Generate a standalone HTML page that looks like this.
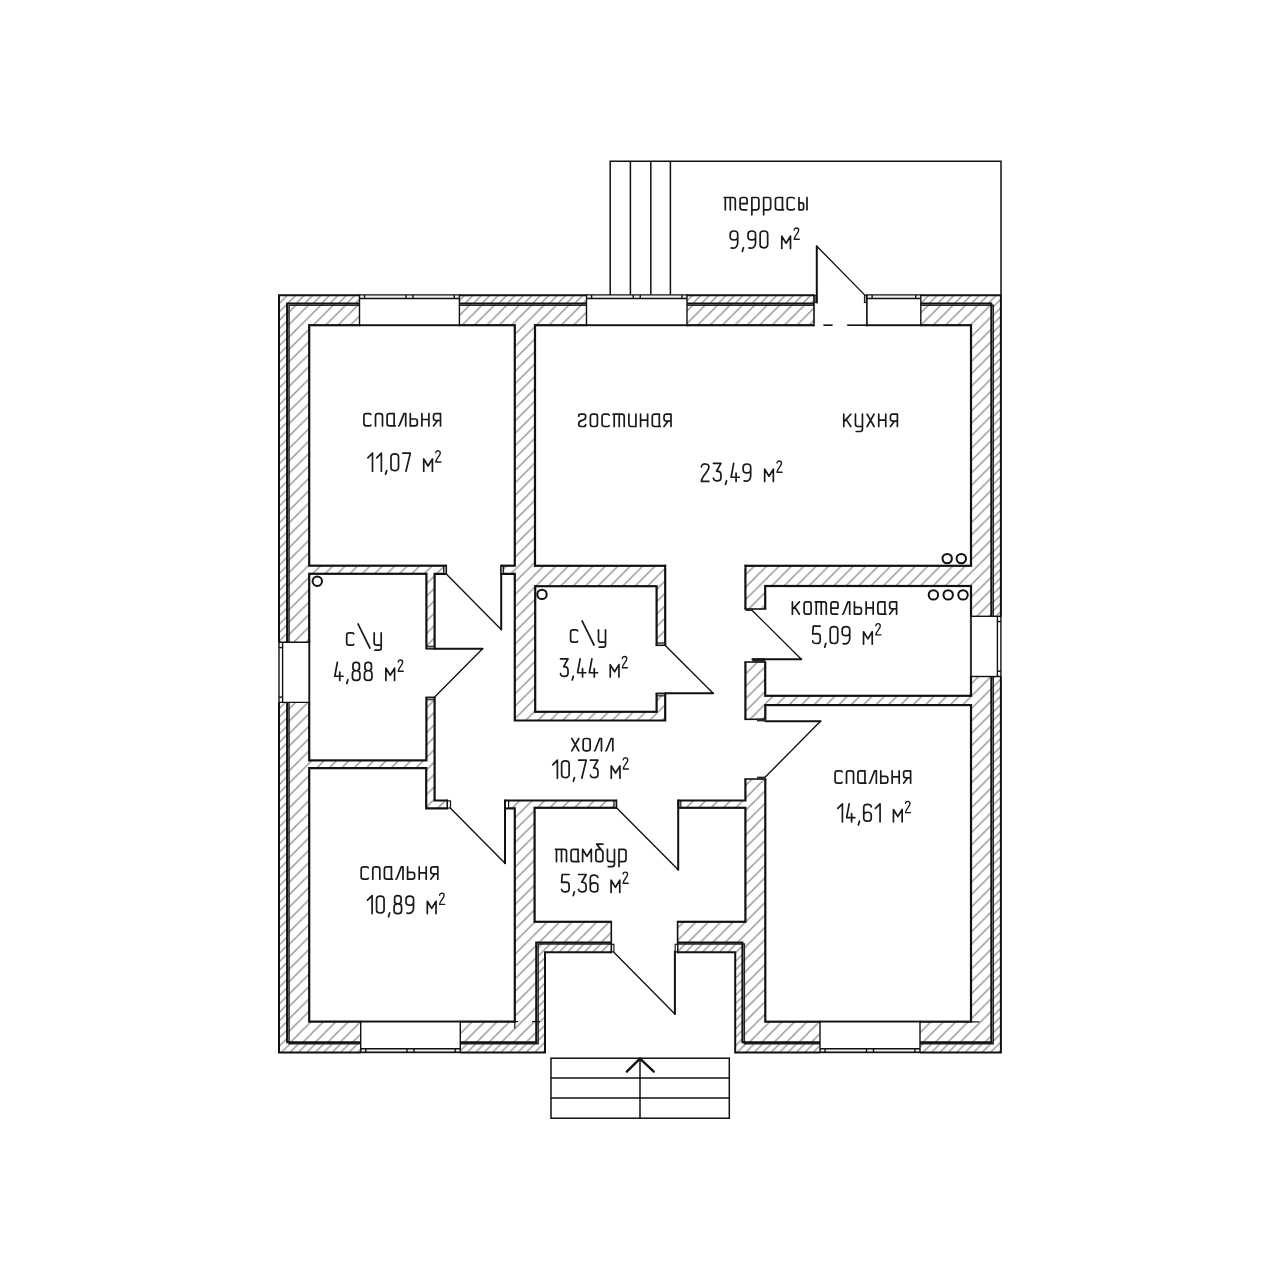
<!DOCTYPE html>
<html><head><meta charset="utf-8"><title>plan</title>
<style>html,body{margin:0;padding:0;background:#fff;font-family:"Liberation Sans",sans-serif}svg{display:block}</style>
</head><body>
<svg width="1280" height="1280" viewBox="0 0 1280 1280">
<rect width="1280" height="1280" fill="#fff"/>
<defs><pattern id="hs" patternUnits="userSpaceOnUse" width="12.4" height="12.4" patternTransform="translate(6.0,0)"><path d="M0,12.4 L12.4,0 M-1,1 L1,-1 M11.4,13.4 L13.4,11.4" stroke="#939393" stroke-width="1.4" fill="none"/></pattern><pattern id="hc" patternUnits="userSpaceOnUse" width="8.44" height="8.44" patternTransform="translate(0.4,0)"><path d="M0,8.44 L8.44,0 M-1,1 L1,-1 M7.4399999999999995,9.44 L9.44,7.4399999999999995" stroke="#939393" stroke-width="1.4" fill="none"/></pattern></defs>
<polygon points="288,304 992,304 992,1042.8 743.2,1042.8 743.2,943.2 537,943.2 537,1042.8 288,1042.8" fill="url(#hs)"/>
<path d="M279,295.2 L1000.9,295.2 L1000.9,1052.4 L735.2,1052.4 L735.2,952.3 L545,952.3 L545,1052.4 L279,1052.4 Z M288,304 L992,304 L992,1042.8 L743.2,1042.8 L743.2,943.2 L537,943.2 L537,1042.8 L288,1042.8 Z" fill="url(#hc)" fill-rule="evenodd"/>
<polygon points="289.05,305.15 993.25,305.15 993.25,1043.85 744.35,1043.85 744.35,944.05 538.15,944.05 538.15,1043.85 289.05,1043.85" fill="none" stroke="#262626" stroke-width="1.5"/>
<polygon points="287.1,303.5 991.3,303.5 991.3,1042.2 742.4,1042.2 742.4,942.4 536.2,942.4 536.2,1042.2 287.1,1042.2" fill="none" stroke="#111" stroke-width="2.0"/>
<polygon points="279,295.2 1000.9,295.2 1000.9,1052.4 735.2,1052.4 735.2,952.3 545,952.3 545,1052.4 279,1052.4" fill="none" stroke="#111" stroke-width="2.0"/>
<rect x="309.2" y="325.2" width="205.6" height="240.5" fill="#fff" stroke="#111" stroke-width="2.2"/>
<rect x="535" y="325.2" width="436" height="240.6" fill="#fff" stroke="#111" stroke-width="2.2"/>
<rect x="309.2" y="573.8" width="117.2" height="186.6" fill="#fff" stroke="#111" stroke-width="2.2"/>
<polygon points="309.2,768.2 426.2,768.2 426.2,808.3 514.8,808.3 514.8,1021.7 309.2,1021.7" fill="#fff" stroke="#111" stroke-width="2.2"/>
<polygon points="434.6,573.8 514.8,573.8 514.8,720.5 665.2,720.5 665.2,565.8 745.4,565.8 745.4,800.5 434.6,800.5" fill="#fff" stroke="#111" stroke-width="2.2"/>
<rect x="535.2" y="586.2" width="121.4" height="125.6" fill="#fff" stroke="#111" stroke-width="2.2"/>
<rect x="765.2" y="586" width="205.8" height="109.8" fill="#fff" stroke="#111" stroke-width="2.2"/>
<rect x="765.3" y="705.1" width="205.7" height="316.6" fill="#fff" stroke="#111" stroke-width="2.2"/>
<rect x="534.6" y="807.8" width="210.8" height="114" fill="#fff" stroke="#111" stroke-width="2.2"/>
<rect x="446.3" y="563.3" width="54.7" height="13.1" fill="#fff"/>
<line x1="446.3" y1="564.7" x2="446.3" y2="575" stroke-width="1.6" stroke="#111"/>
<line x1="501" y1="564.7" x2="501" y2="575" stroke-width="1.6" stroke="#111"/>
<rect x="424" y="648.7" width="13" height="48.7" fill="#fff"/>
<line x1="425.4" y1="648.7" x2="435.6" y2="648.7" stroke-width="1.6" stroke="#111"/>
<line x1="425.4" y1="697.4" x2="435.6" y2="697.4" stroke-width="1.6" stroke="#111"/>
<rect x="447.4" y="798.1" width="57.9" height="12.6" fill="#fff"/>
<line x1="447.4" y1="799.5" x2="447.4" y2="809.3" stroke-width="1.6" stroke="#111"/>
<line x1="505.3" y1="799.5" x2="505.3" y2="809.3" stroke-width="1.6" stroke="#111"/>
<rect x="616.5" y="798.1" width="61.8" height="12.1" fill="#fff"/>
<line x1="616.5" y1="799.5" x2="616.5" y2="808.8" stroke-width="1.6" stroke="#111"/>
<line x1="678.3" y1="799.5" x2="678.3" y2="808.8" stroke-width="1.6" stroke="#111"/>
<rect x="611.3" y="919.4" width="66.3" height="35.3" fill="#fff"/>
<line x1="611.3" y1="920.8" x2="611.3" y2="953.3" stroke-width="1.6" stroke="#111"/>
<line x1="677.6" y1="920.8" x2="677.6" y2="953.3" stroke-width="1.6" stroke="#111"/>
<rect x="743" y="719.3" width="24.7" height="59.7" fill="#fff"/>
<line x1="744.4" y1="719.3" x2="766.3" y2="719.3" stroke-width="1.6" stroke="#111"/>
<line x1="744.4" y1="779" x2="766.3" y2="779" stroke-width="1.6" stroke="#111"/>
<rect x="743" y="609" width="24.6" height="53" fill="#fff"/>
<line x1="744.4" y1="609" x2="766.2" y2="609" stroke-width="1.6" stroke="#111"/>
<line x1="744.4" y1="662" x2="766.2" y2="662" stroke-width="1.6" stroke="#111"/>
<rect x="654.2" y="645.3" width="13.4" height="48.1" fill="#fff"/>
<line x1="655.6" y1="645.3" x2="666.2" y2="645.3" stroke-width="1.6" stroke="#111"/>
<line x1="655.6" y1="693.4" x2="666.2" y2="693.4" stroke-width="1.6" stroke="#111"/>
<rect x="666.3" y="563.4" width="78" height="4.9" fill="#fff"/>
<rect x="814" y="292.8" width="53" height="34.8" fill="#fff"/>
<line x1="814" y1="294.2" x2="814" y2="326.2" stroke-width="1.6" stroke="#111"/>
<line x1="867" y1="294.2" x2="867" y2="326.2" stroke-width="1.6" stroke="#111"/>
<rect x="443.6" y="566.2" width="2.7" height="7.4" fill="#9a9a9a" stroke="#111" stroke-width="1.0"/>
<rect x="501" y="566.2" width="2.6" height="7.4" fill="#9a9a9a" stroke="#111" stroke-width="1.0"/>
<rect x="426.9" y="646.2" width="7.2" height="2.5" fill="#9a9a9a" stroke="#111" stroke-width="1.0"/>
<rect x="426.9" y="697.4" width="7.2" height="2.4" fill="#9a9a9a" stroke="#111" stroke-width="1.0"/>
<rect x="447.4" y="800.9" width="3.1" height="7.1" fill="#fff" stroke="#111" stroke-width="1.2"/>
<rect x="505" y="800.9" width="3.6" height="7.1" fill="#fff" stroke="#111" stroke-width="1.2"/>
<rect x="613.9" y="801" width="2.6" height="6.4" fill="#9a9a9a" stroke="#111" stroke-width="1.0"/>
<rect x="678.3" y="801" width="2.6" height="6.4" fill="#9a9a9a" stroke="#111" stroke-width="1.0"/>
<rect x="611.6" y="944.3" width="2.3" height="7.6" fill="#fff" stroke="#111" stroke-width="1.1"/>
<rect x="675.2" y="944.3" width="2.4" height="7.6" fill="#fff" stroke="#111" stroke-width="1.1"/>
<rect x="757" y="718.6" width="8.3" height="2.8" fill="#2a2a2a"/>
<rect x="757" y="776.6" width="8.3" height="2.8" fill="#2a2a2a"/>
<rect x="745.4" y="608.4" width="7.2" height="2.6" fill="#2a2a2a"/>
<rect x="752.4" y="658.4" width="12.8" height="4" fill="#2a2a2a"/>
<rect x="657" y="642.9" width="7.8" height="2.4" fill="#9a9a9a" stroke="#111" stroke-width="1.0"/>
<rect x="657" y="693.4" width="7.8" height="2.5" fill="#9a9a9a" stroke="#111" stroke-width="1.0"/>
<rect x="814.8" y="295.4" width="2.1" height="7.2" fill="#9a9a9a" stroke="#111" stroke-width="1.0"/>
<rect x="864.4" y="295.4" width="2.2" height="7.2" fill="#9a9a9a" stroke="#111" stroke-width="1.0"/>
<line x1="446.3" y1="574" x2="501.2" y2="629.4" stroke-width="1.35" stroke-linecap="round" stroke="#111"/>
<line x1="501.2" y1="629.4" x2="501.2" y2="574" stroke-width="2.0" stroke-linecap="round" stroke="#111"/>
<line x1="434.6" y1="648.8" x2="482.5" y2="648.8" stroke-width="2.0" stroke-linecap="round" stroke="#111"/>
<line x1="482.5" y1="648.8" x2="434.2" y2="697.4" stroke-width="1.35" stroke-linecap="round" stroke="#111"/>
<line x1="450.5" y1="808.2" x2="505" y2="863.2" stroke-width="1.35" stroke-linecap="round" stroke="#111"/>
<line x1="505" y1="863.2" x2="505" y2="800.6" stroke-width="2.0" stroke-linecap="round" stroke="#111"/>
<line x1="616.5" y1="807.8" x2="678.2" y2="869.8" stroke-width="1.35" stroke-linecap="round" stroke="#111"/>
<line x1="678.2" y1="869.8" x2="678.2" y2="800.4" stroke-width="2.0" stroke-linecap="round" stroke="#111"/>
<line x1="613.6" y1="952" x2="674.9" y2="1013.9" stroke-width="1.35" stroke-linecap="round" stroke="#111"/>
<line x1="674.9" y1="1013.9" x2="674.9" y2="951.5" stroke-width="2.0" stroke-linecap="round" stroke="#111"/>
<line x1="765.3" y1="721.2" x2="820.5" y2="721.2" stroke-width="2.0" stroke-linecap="round" stroke="#111"/>
<line x1="820.5" y1="721.2" x2="765.3" y2="777" stroke-width="1.35" stroke-linecap="round" stroke="#111"/>
<line x1="752.2" y1="610.4" x2="801.3" y2="659.3" stroke-width="1.35" stroke-linecap="round" stroke="#111"/>
<line x1="801.3" y1="659.3" x2="752.4" y2="659.3" stroke-width="2.0" stroke-linecap="round" stroke="#111"/>
<line x1="665.3" y1="645.4" x2="713.1" y2="693.2" stroke-width="1.35" stroke-linecap="round" stroke="#111"/>
<line x1="713.1" y1="693.2" x2="665.2" y2="693.2" stroke-width="2.0" stroke-linecap="round" stroke="#111"/>
<line x1="816.8" y1="302.5" x2="816.8" y2="246.2" stroke-width="2.0" stroke-linecap="round" stroke="#111"/>
<line x1="816.8" y1="246.2" x2="864.6" y2="294.9" stroke-width="1.35" stroke-linecap="round" stroke="#111"/>
<line x1="823.4" y1="325.2" x2="832.6" y2="325.2" stroke-width="1.6" stroke="#111"/>
<line x1="847.2" y1="325.2" x2="867" y2="325.2" stroke-width="1.6" stroke="#111"/>
<rect x="359.5" y="294" width="99.9" height="32.4" fill="#fff"/>
<rect x="359.5" y="294.9" width="99.9" height="3.6" fill="#f1f1f1"/>
<line x1="359.5" y1="294.9" x2="459.4" y2="294.9" stroke-width="1.4" stroke="#111"/>
<line x1="359.5" y1="298.5" x2="459.4" y2="298.5" stroke-width="1.4" stroke="#111"/>
<line x1="359.5" y1="325.2" x2="459.4" y2="325.2" stroke-width="1.7" stroke="#111"/>
<line x1="359.5" y1="294.3" x2="359.5" y2="326.2" stroke-width="1.4" stroke="#111"/>
<line x1="459.4" y1="294.3" x2="459.4" y2="326.2" stroke-width="1.4" stroke="#111"/>
<line x1="364.6" y1="294.9" x2="364.6" y2="298.5" stroke-width="1.4" stroke="#111"/>
<line x1="454.3" y1="294.9" x2="454.3" y2="298.5" stroke-width="1.4" stroke="#111"/>
<line x1="405.95" y1="294.9" x2="405.95" y2="298.5" stroke-width="1.4" stroke="#111"/>
<line x1="412.95" y1="294.9" x2="412.95" y2="298.5" stroke-width="1.4" stroke="#111"/>
<rect x="586.5" y="294" width="100.5" height="32.4" fill="#fff"/>
<rect x="586.5" y="294.9" width="100.5" height="3.6" fill="#f1f1f1"/>
<line x1="586.5" y1="294.9" x2="687" y2="294.9" stroke-width="1.4" stroke="#111"/>
<line x1="586.5" y1="298.5" x2="687" y2="298.5" stroke-width="1.4" stroke="#111"/>
<line x1="586.5" y1="325.2" x2="687" y2="325.2" stroke-width="1.7" stroke="#111"/>
<line x1="586.5" y1="294.3" x2="586.5" y2="326.2" stroke-width="1.4" stroke="#111"/>
<line x1="687" y1="294.3" x2="687" y2="326.2" stroke-width="1.4" stroke="#111"/>
<line x1="591.6" y1="294.9" x2="591.6" y2="298.5" stroke-width="1.4" stroke="#111"/>
<line x1="681.9" y1="294.9" x2="681.9" y2="298.5" stroke-width="1.4" stroke="#111"/>
<line x1="633.25" y1="294.9" x2="633.25" y2="298.5" stroke-width="1.4" stroke="#111"/>
<line x1="640.25" y1="294.9" x2="640.25" y2="298.5" stroke-width="1.4" stroke="#111"/>
<rect x="867" y="294" width="53.8" height="32.4" fill="#fff"/>
<rect x="867" y="294.9" width="53.8" height="3.6" fill="#f1f1f1"/>
<line x1="867" y1="294.9" x2="920.8" y2="294.9" stroke-width="1.4" stroke="#111"/>
<line x1="867" y1="298.5" x2="920.8" y2="298.5" stroke-width="1.4" stroke="#111"/>
<line x1="867" y1="325.2" x2="920.8" y2="325.2" stroke-width="1.7" stroke="#111"/>
<line x1="867" y1="294.3" x2="867" y2="326.2" stroke-width="1.4" stroke="#111"/>
<line x1="920.8" y1="294.3" x2="920.8" y2="326.2" stroke-width="1.4" stroke="#111"/>
<line x1="872.1" y1="294.9" x2="872.1" y2="298.5" stroke-width="1.4" stroke="#111"/>
<line x1="915.7" y1="294.9" x2="915.7" y2="298.5" stroke-width="1.4" stroke="#111"/>
<rect x="360.7" y="1020.5" width="99.6" height="33.1" fill="#fff"/>
<rect x="360.7" y="1048.8" width="99.6" height="3.5" fill="#f1f1f1"/>
<line x1="360.7" y1="1052.3" x2="460.3" y2="1052.3" stroke-width="1.4" stroke="#111"/>
<line x1="360.7" y1="1048.8" x2="460.3" y2="1048.8" stroke-width="1.4" stroke="#111"/>
<line x1="360.7" y1="1021.7" x2="460.3" y2="1021.7" stroke-width="1.7" stroke="#111"/>
<line x1="360.7" y1="1020.7" x2="360.7" y2="1052.9" stroke-width="1.4" stroke="#111"/>
<line x1="460.3" y1="1020.7" x2="460.3" y2="1052.9" stroke-width="1.4" stroke="#111"/>
<line x1="365.8" y1="1048.8" x2="365.8" y2="1052.3" stroke-width="1.4" stroke="#111"/>
<line x1="455.2" y1="1048.8" x2="455.2" y2="1052.3" stroke-width="1.4" stroke="#111"/>
<line x1="407" y1="1048.8" x2="407" y2="1052.3" stroke-width="1.4" stroke="#111"/>
<line x1="414" y1="1048.8" x2="414" y2="1052.3" stroke-width="1.4" stroke="#111"/>
<rect x="820" y="1020.5" width="100" height="33.1" fill="#fff"/>
<rect x="820" y="1048.8" width="100" height="3.5" fill="#f1f1f1"/>
<line x1="820" y1="1052.3" x2="920" y2="1052.3" stroke-width="1.4" stroke="#111"/>
<line x1="820" y1="1048.8" x2="920" y2="1048.8" stroke-width="1.4" stroke="#111"/>
<line x1="820" y1="1021.7" x2="920" y2="1021.7" stroke-width="1.7" stroke="#111"/>
<line x1="820" y1="1020.7" x2="820" y2="1052.9" stroke-width="1.4" stroke="#111"/>
<line x1="920" y1="1020.7" x2="920" y2="1052.9" stroke-width="1.4" stroke="#111"/>
<line x1="825.1" y1="1048.8" x2="825.1" y2="1052.3" stroke-width="1.4" stroke="#111"/>
<line x1="914.9" y1="1048.8" x2="914.9" y2="1052.3" stroke-width="1.4" stroke="#111"/>
<line x1="866.5" y1="1048.8" x2="866.5" y2="1052.3" stroke-width="1.4" stroke="#111"/>
<line x1="873.5" y1="1048.8" x2="873.5" y2="1052.3" stroke-width="1.4" stroke="#111"/>
<rect x="277.8" y="642.3" width="32.6" height="60.1" fill="#fff"/>
<line x1="279" y1="642.3" x2="279" y2="702.4" stroke-width="1.4" stroke="#111"/>
<line x1="282.6" y1="642.3" x2="282.6" y2="702.4" stroke-width="1.4" stroke="#111"/>
<line x1="309.2" y1="642.3" x2="309.2" y2="702.4" stroke-width="1.7" stroke="#111"/>
<line x1="278.4" y1="642.3" x2="310.2" y2="642.3" stroke-width="1.4" stroke="#111"/>
<line x1="278.4" y1="702.4" x2="310.2" y2="702.4" stroke-width="1.4" stroke="#111"/>
<line x1="279" y1="647.6" x2="282.6" y2="647.6" stroke-width="1.4" stroke="#111"/>
<line x1="279" y1="697.1" x2="282.6" y2="697.1" stroke-width="1.4" stroke="#111"/>
<rect x="969.8" y="616.3" width="32.3" height="60.2" fill="#fff"/>
<line x1="1000.9" y1="616.3" x2="1000.9" y2="676.5" stroke-width="1.4" stroke="#111"/>
<line x1="997.4" y1="616.3" x2="997.4" y2="676.5" stroke-width="1.4" stroke="#111"/>
<line x1="971" y1="616.3" x2="971" y2="676.5" stroke-width="1.7" stroke="#111"/>
<line x1="970" y1="616.3" x2="1001.5" y2="616.3" stroke-width="1.4" stroke="#111"/>
<line x1="970" y1="676.5" x2="1001.5" y2="676.5" stroke-width="1.4" stroke="#111"/>
<line x1="997.4" y1="621.6" x2="1000.9" y2="621.6" stroke-width="1.4" stroke="#111"/>
<line x1="997.4" y1="671.2" x2="1000.9" y2="671.2" stroke-width="1.4" stroke="#111"/>
<polyline points="610.2,295 610.2,161.2 1001,161.2 1001,295" stroke="#111" stroke-width="1.5" fill="none"/>
<line x1="630.4" y1="161.2" x2="630.4" y2="294.6" stroke-width="1.5" stroke="#111"/>
<line x1="650.8" y1="161.2" x2="650.8" y2="294.6" stroke-width="1.5" stroke="#111"/>
<line x1="670.4" y1="161.2" x2="670.4" y2="294.6" stroke-width="1.5" stroke="#111"/>
<rect x="551" y="1058.2" width="178.3" height="60" fill="none" stroke="#111" stroke-width="1.5"/>
<line x1="551" y1="1077.9" x2="729.3" y2="1077.9" stroke-width="1.5" stroke="#111"/>
<line x1="551" y1="1098.1" x2="729.3" y2="1098.1" stroke-width="1.5" stroke="#111"/>
<line x1="640" y1="1058.2" x2="640" y2="1118.2" stroke-width="1.5" stroke="#111"/>
<polyline points="626.8,1071.6 640,1058.6 653.8,1071.6" stroke="#111" stroke-width="2.3" stroke-linecap="round" fill="none"/>
<line x1="514.8" y1="1021.6" x2="514.8" y2="1028.4" stroke-width="1.2" stroke="#111"/>
<line x1="511.5" y1="1021.6" x2="518" y2="1021.6" stroke-width="1.2" stroke="#111"/>
<line x1="532" y1="1021.6" x2="540" y2="1021.6" stroke-width="1.2" stroke="#111"/>
<line x1="971.5" y1="1021.9" x2="979.5" y2="1021.9" stroke-width="1.2" stroke="#111"/>
<circle cx="317.3" cy="581.3" r="4.7" fill="#fff" stroke="#111" stroke-width="2.0"/>
<circle cx="542" cy="594.4" r="4.7" fill="#fff" stroke="#111" stroke-width="2.0"/>
<circle cx="947.2" cy="558.6" r="4.7" fill="#fff" stroke="#111" stroke-width="2.0"/>
<circle cx="961.3" cy="558.6" r="4.7" fill="#fff" stroke="#111" stroke-width="2.0"/>
<circle cx="933.4" cy="594.9" r="4.7" fill="#fff" stroke="#111" stroke-width="2.0"/>
<circle cx="948.2" cy="594.9" r="4.7" fill="#fff" stroke="#111" stroke-width="2.0"/>
<circle cx="963" cy="594.9" r="4.7" fill="#fff" stroke="#111" stroke-width="2.0"/>
<g fill="none" stroke="#1a1a1a" stroke-width="1.7" stroke-linecap="round" stroke-linejoin="round"><path transform="translate(724.9,209.8) scale(1,-1)" d="M -0.6,12.3 L 8.1,12.3 Q 10.4,12.3 10.4,10 L 10.4,0 M 0.4,12.3 L 0.4,0 M 5.41,12.3 L 5.41,0"/><path transform="translate(740.08,209.8) scale(1,-1)" d="M 0,6.15 L 7,6.15 L 7,10 Q 7,12.3 4.7,12.3 L 2.3,12.3 Q 0,12.3 0,10 L 0,2.3 Q 0,0 2.3,0 L 6.5,0"/><path transform="translate(751.87,209.8) scale(1,-1)" d="M 0,-5 L 0,12.3 L 4.7,12.3 Q 7,12.3 7,10 L 7,2.3 Q 7,0 4.7,0 L 0,0"/><path transform="translate(763.65,209.8) scale(1,-1)" d="M 0,-5 L 0,12.3 L 4.7,12.3 Q 7,12.3 7,10 L 7,2.3 Q 7,0 4.7,0 L 0,0"/><path transform="translate(775.43,209.8) scale(1,-1)" d="M 7,12.3 L 2.3,12.3 Q 0,12.3 0,10 L 0,2.3 Q 0,0 2.3,0 L 7,0 M 7,12.3 L 7,1 Q 7,0 8,0"/><path transform="translate(787.22,209.8) scale(1,-1)" d="M 7,11.4 Q 6.8,12.3 5.4,12.3 L 2.3,12.3 Q 0,12.3 0,10 L 0,2.3 Q 0,0 2.3,0 L 5.4,0 Q 6.8,0 7,0.9"/><path transform="translate(799,209.8) scale(1,-1)" d="M 0,12.3 L 0,0 L 2.8,0 Q 4.6,0 4.6,1.8 L 4.6,5.09 Q 4.6,6.89 2.8,6.89 L 0,6.89 M 8,12.3 L 8,0"/></g>
<g fill="none" stroke="#1a1a1a" stroke-width="1.7" stroke-linecap="round" stroke-linejoin="round"><path transform="translate(730.2,248.4) scale(1,-1)" d="M 1,0.5 C 4.5,-0.6 7.5,1.5 7.5,5.5 L 7.5,14.4 C 7.5,18.4 0,18.4 0,14.4 L 0,11.32 C 0,7.52 7.5,7.52 7.5,11.32"/><path transform="translate(742.32,248.4) scale(1,-1)" d="M 1.1,0.7 L 0,-3.1"/><path transform="translate(748.03,248.4) scale(1,-1)" d="M 1,0.5 C 4.5,-0.6 7.5,1.5 7.5,5.5 L 7.5,14.4 C 7.5,18.4 0,18.4 0,14.4 L 0,11.32 C 0,7.52 7.5,7.52 7.5,11.32"/><path transform="translate(760.15,248.4) scale(1,-1)" d="M 0,3.6 L 0,14.4 C 0,18.4 7.5,18.4 7.5,14.4 L 7.5,3.6 C 7.5,-0.4 0,-0.4 0,3.6 Z"/><path transform="translate(781.78,248.4) scale(1,-1)" d="M 0,0 L 0,12.3 L 4.35,5.17 L 8.7,12.3 L 8.7,0"/><path transform="translate(794.2,239.2) scale(1,-1)" d="M 0,9.2 C 0,11.9 4.5,11.9 4.5,9 C 4.5,6.2 0,3.2 0,0 L 5.1,0" stroke-width="1.35"/></g>
<g fill="none" stroke="#1a1a1a" stroke-width="1.7" stroke-linecap="round" stroke-linejoin="round"><path transform="translate(363.9,425.9) scale(1,-1)" d="M 7,11.4 Q 6.8,12.3 5.4,12.3 L 2.3,12.3 Q 0,12.3 0,10 L 0,2.3 Q 0,0 2.3,0 L 5.4,0 Q 6.8,0 7,0.9"/><path transform="translate(375.5,425.9) scale(1,-1)" d="M 0,0 L 0,10 Q 0,12.3 2.3,12.3 L 4.7,12.3 Q 7,12.3 7,10 L 7,0"/><path transform="translate(387.1,425.9) scale(1,-1)" d="M 7,12.3 L 2.3,12.3 Q 0,12.3 0,10 L 0,2.3 Q 0,0 2.3,0 L 7,0 M 7,12.3 L 7,1 Q 7,0 8,0"/><path transform="translate(398.7,425.9) scale(1,-1)" d="M 0,0 Q 0.7,0 1.1,1.5 L 5.3,12.3 L 7,12.3 L 7,0"/><path transform="translate(410.3,425.9) scale(1,-1)" d="M 0,12.3 L 0,0 L 4.7,0 Q 7,0 7,2.3 L 7,4.59 Q 7,6.89 4.7,6.89 L 0,6.89"/><path transform="translate(421.9,425.9) scale(1,-1)" d="M 0,0 L 0,12.3 M 7,0 L 7,12.3 M 0,6.4 L 7,6.4"/><path transform="translate(433.5,425.9) scale(1,-1)" d="M 7,0 L 7,12.3 L 2.3,12.3 Q 0,12.3 0,10 L 0,7.71 Q 0,5.41 2.3,5.41 L 7,5.41 M 4.2,5.41 L 0,0"/></g>
<g fill="none" stroke="#1a1a1a" stroke-width="1.7" stroke-linecap="round" stroke-linejoin="round"><path transform="translate(367.9,471.2) scale(1,-1)" d="M 0,13.4 L 4.6,18 L 4.6,0"/><path transform="translate(376.77,471.2) scale(1,-1)" d="M 0,13.4 L 4.6,18 L 4.6,0"/><path transform="translate(385.64,471.2) scale(1,-1)" d="M 1.1,0.7 L 0,-3.1"/><path transform="translate(391.01,471.2) scale(1,-1)" d="M 0,3.6 L 0,14.4 C 0,18.4 7.5,18.4 7.5,14.4 L 7.5,3.6 C 7.5,-0.4 0,-0.4 0,3.6 Z"/><path transform="translate(402.79,471.2) scale(1,-1)" d="M 0,18 L 7.5,18 L 3.15,0"/><path transform="translate(423.73,471.2) scale(1,-1)" d="M 0,0 L 0,12.3 L 4.35,5.17 L 8.7,12.3 L 8.7,0"/><path transform="translate(435.8,462) scale(1,-1)" d="M 0,9.2 C 0,11.9 4.5,11.9 4.5,9 C 4.5,6.2 0,3.2 0,0 L 5.1,0" stroke-width="1.35"/></g>
<g fill="none" stroke="#1a1a1a" stroke-width="1.7" stroke-linecap="round" stroke-linejoin="round"><path transform="translate(578.7,426.5) scale(1,-1)" d="M 0,10.3 Q 0,12.3 2,12.3 L 4.8,12.3 Q 7,12.3 7,10.1 L 7,9.7 Q 7,6.77 3.5,6.15 Q 0,5.54 0,2.6 L 0,2.2 Q 0,0 2.2,0 L 5,0 Q 7,0 7,2"/><path transform="translate(590.4,426.5) scale(1,-1)" d="M 2.3,0 L 4.7,0 Q 7,0 7,2.3 L 7,10 Q 7,12.3 4.7,12.3 L 2.3,12.3 Q 0,12.3 0,10 L 0,2.3 Q 0,0 2.3,0 Z"/><path transform="translate(602.1,426.5) scale(1,-1)" d="M 7,11.4 Q 6.8,12.3 5.4,12.3 L 2.3,12.3 Q 0,12.3 0,10 L 0,2.3 Q 0,0 2.3,0 L 5.4,0 Q 6.8,0 7,0.9"/><path transform="translate(613.8,426.5) scale(1,-1)" d="M -0.6,12.3 L 8.1,12.3 Q 10.4,12.3 10.4,10 L 10.4,0 M 0.4,12.3 L 0.4,0 M 5.41,12.3 L 5.41,0"/><path transform="translate(628.9,426.5) scale(1,-1)" d="M 0,12.3 L 0,2.3 Q 0,0 2.3,0 L 7,0 M 7,12.3 L 7,0"/><path transform="translate(640.6,426.5) scale(1,-1)" d="M 0,0 L 0,12.3 M 7,0 L 7,12.3 M 0,6.4 L 7,6.4"/><path transform="translate(652.3,426.5) scale(1,-1)" d="M 7,12.3 L 2.3,12.3 Q 0,12.3 0,10 L 0,2.3 Q 0,0 2.3,0 L 7,0 M 7,12.3 L 7,1 Q 7,0 8,0"/><path transform="translate(664,426.5) scale(1,-1)" d="M 7,0 L 7,12.3 L 2.3,12.3 Q 0,12.3 0,10 L 0,7.71 Q 0,5.41 2.3,5.41 L 7,5.41 M 4.2,5.41 L 0,0"/></g>
<g fill="none" stroke="#1a1a1a" stroke-width="1.7" stroke-linecap="round" stroke-linejoin="round"><path transform="translate(843.8,426.5) scale(1,-1)" d="M 0,0 L 0,12.3 M 7,12.3 L 0,4.67 M 2.52,6.89 L 7,0"/><path transform="translate(855.45,426.5) scale(1,-1)" d="M 0,12.3 L 0,2.3 Q 0,0 2.3,0 L 7,0 M 7,12.3 L 7,-2.7 Q 7,-5 4.7,-5 L 0.8,-5"/><path transform="translate(867.1,426.5) scale(1,-1)" d="M 0,0 L 7,12.3 M 0,12.3 L 7,0"/><path transform="translate(878.75,426.5) scale(1,-1)" d="M 0,0 L 0,12.3 M 7,0 L 7,12.3 M 0,6.4 L 7,6.4"/><path transform="translate(890.4,426.5) scale(1,-1)" d="M 7,0 L 7,12.3 L 2.3,12.3 Q 0,12.3 0,10 L 0,7.71 Q 0,5.41 2.3,5.41 L 7,5.41 M 4.2,5.41 L 0,0"/></g>
<g fill="none" stroke="#1a1a1a" stroke-width="1.7" stroke-linecap="round" stroke-linejoin="round"><path transform="translate(701.4,481.4) scale(1,-1)" d="M 0,14.6 C 0,18.4 7.5,18.4 7.5,14.4 C 7.5,10 0,5 0,0 L 7.5,0"/><path transform="translate(713.44,481.4) scale(1,-1)" d="M 0,18 L 7.5,18 L 3.15,10.26 Q 7.5,10.26 7.5,6.86 L 7.5,3.4 C 7.5,-0.3 0,-0.3 0,3.2"/><path transform="translate(725.49,481.4) scale(1,-1)" d="M 1.1,0.7 L 0,-3.1"/><path transform="translate(731.13,481.4) scale(1,-1)" d="M 2.55,18 L 0,4.14 L 8.2,4.14 M 4.95,8.28 L 4.95,0"/><path transform="translate(743.17,481.4) scale(1,-1)" d="M 1,0.5 C 4.5,-0.6 7.5,1.5 7.5,5.5 L 7.5,14.4 C 7.5,18.4 0,18.4 0,14.4 L 0,11.32 C 0,7.52 7.5,7.52 7.5,11.32"/><path transform="translate(764.66,481.4) scale(1,-1)" d="M 0,0 L 0,12.3 L 4.35,5.17 L 8.7,12.3 L 8.7,0"/><path transform="translate(777,472.2) scale(1,-1)" d="M 0,9.2 C 0,11.9 4.5,11.9 4.5,9 C 4.5,6.2 0,3.2 0,0 L 5.1,0" stroke-width="1.35"/></g>
<g fill="none" stroke="#1a1a1a" stroke-width="1.7" stroke-linecap="round" stroke-linejoin="round"><path transform="translate(346.7,645.2) scale(1,-1)" d="M 7,11.4 Q 6.8,12.3 5.4,12.3 L 2.3,12.3 Q 0,12.3 0,10 L 0,2.3 Q 0,0 2.3,0 L 5.4,0 Q 6.8,0 7,0.9"/><path transform="translate(358,645.2) scale(1,-1)" d="M 0,21.3 L 11.9,-2.8"/><path transform="translate(374.2,645.2) scale(1,-1)" d="M 0,12.3 L 0,2.3 Q 0,0 2.3,0 L 7,0 M 7,12.3 L 7,-2.7 Q 7,-5 4.7,-5 L 0.8,-5"/></g>
<g fill="none" stroke="#1a1a1a" stroke-width="1.7" stroke-linecap="round" stroke-linejoin="round"><path transform="translate(334.8,680.4) scale(1,-1)" d="M 2.55,18 L 0,4.14 L 8.2,4.14 M 4.95,8.28 L 4.95,0"/><path transform="translate(346.82,680.4) scale(1,-1)" d="M 1.1,0.7 L 0,-3.1"/><path transform="translate(352.43,680.4) scale(1,-1)" d="M 3.4,9.63 L 4.1,9.63 Q 7,9.63 7,12.53 L 7,15.1 Q 7,18 4.1,18 L 3.4,18 Q 0.5,18 0.5,15.1 L 0.5,12.53 Q 0.5,9.63 3.4,9.63 Z M 3.2,0 L 4.3,0 Q 7.5,0 7.5,3.2 L 7.5,6.43 Q 7.5,9.63 4.3,9.63 L 3.2,9.63 Q 0,9.63 0,6.43 L 0,3.2 Q 0,0 3.2,0 Z"/><path transform="translate(364.45,680.4) scale(1,-1)" d="M 3.4,9.63 L 4.1,9.63 Q 7,9.63 7,12.53 L 7,15.1 Q 7,18 4.1,18 L 3.4,18 Q 0.5,18 0.5,15.1 L 0.5,12.53 Q 0.5,9.63 3.4,9.63 Z M 3.2,0 L 4.3,0 Q 7.5,0 7.5,3.2 L 7.5,6.43 Q 7.5,9.63 4.3,9.63 L 3.2,9.63 Q 0,9.63 0,6.43 L 0,3.2 Q 0,0 3.2,0 Z"/><path transform="translate(385.88,680.4) scale(1,-1)" d="M 0,0 L 0,12.3 L 4.35,5.17 L 8.7,12.3 L 8.7,0"/><path transform="translate(398.2,671.2) scale(1,-1)" d="M 0,9.2 C 0,11.9 4.5,11.9 4.5,9 C 4.5,6.2 0,3.2 0,0 L 5.1,0" stroke-width="1.35"/></g>
<g fill="none" stroke="#1a1a1a" stroke-width="1.7" stroke-linecap="round" stroke-linejoin="round"><path transform="translate(570.6,642.2) scale(1,-1)" d="M 7,11.4 Q 6.8,12.3 5.4,12.3 L 2.3,12.3 Q 0,12.3 0,10 L 0,2.3 Q 0,0 2.3,0 L 5.4,0 Q 6.8,0 7,0.9"/><path transform="translate(582.1,642.2) scale(1,-1)" d="M 0,21.3 L 11.9,-2.8"/><path transform="translate(598.5,642.2) scale(1,-1)" d="M 0,12.3 L 0,2.3 Q 0,0 2.3,0 L 7,0 M 7,12.3 L 7,-2.7 Q 7,-5 4.7,-5 L 0.8,-5"/></g>
<g fill="none" stroke="#1a1a1a" stroke-width="1.7" stroke-linecap="round" stroke-linejoin="round"><path transform="translate(560.5,676.9) scale(1,-1)" d="M 0,18 L 7.5,18 L 3.15,10.26 Q 7.5,10.26 7.5,6.86 L 7.5,3.4 C 7.5,-0.3 0,-0.3 0,3.2"/><path transform="translate(572.25,676.9) scale(1,-1)" d="M 1.1,0.7 L 0,-3.1"/><path transform="translate(577.6,676.9) scale(1,-1)" d="M 2.55,18 L 0,4.14 L 8.2,4.14 M 4.95,8.28 L 4.95,0"/><path transform="translate(589.35,676.9) scale(1,-1)" d="M 2.55,18 L 0,4.14 L 8.2,4.14 M 4.95,8.28 L 4.95,0"/><path transform="translate(610.25,676.9) scale(1,-1)" d="M 0,0 L 0,12.3 L 4.35,5.17 L 8.7,12.3 L 8.7,0"/><path transform="translate(622.3,667.7) scale(1,-1)" d="M 0,9.2 C 0,11.9 4.5,11.9 4.5,9 C 4.5,6.2 0,3.2 0,0 L 5.1,0" stroke-width="1.35"/></g>
<g fill="none" stroke="#1a1a1a" stroke-width="1.7" stroke-linecap="round" stroke-linejoin="round"><path transform="translate(792.4,614.2) scale(1,-1)" d="M 0,0 L 0,12.3 M 7,12.3 L 0,4.67 M 2.52,6.89 L 7,0"/><path transform="translate(804.12,614.2) scale(1,-1)" d="M 2.3,0 L 4.7,0 Q 7,0 7,2.3 L 7,10 Q 7,12.3 4.7,12.3 L 2.3,12.3 Q 0,12.3 0,10 L 0,2.3 Q 0,0 2.3,0 Z"/><path transform="translate(815.85,614.2) scale(1,-1)" d="M -0.6,12.3 L 8.1,12.3 Q 10.4,12.3 10.4,10 L 10.4,0 M 0.4,12.3 L 0.4,0 M 5.41,12.3 L 5.41,0"/><path transform="translate(830.98,614.2) scale(1,-1)" d="M 0,6.15 L 7,6.15 L 7,10 Q 7,12.3 4.7,12.3 L 2.3,12.3 Q 0,12.3 0,10 L 0,2.3 Q 0,0 2.3,0 L 6.5,0"/><path transform="translate(842.7,614.2) scale(1,-1)" d="M 0,0 Q 0.7,0 1.1,1.5 L 5.3,12.3 L 7,12.3 L 7,0"/><path transform="translate(854.43,614.2) scale(1,-1)" d="M 0,12.3 L 0,0 L 4.7,0 Q 7,0 7,2.3 L 7,4.59 Q 7,6.89 4.7,6.89 L 0,6.89"/><path transform="translate(866.15,614.2) scale(1,-1)" d="M 0,0 L 0,12.3 M 7,0 L 7,12.3 M 0,6.4 L 7,6.4"/><path transform="translate(877.88,614.2) scale(1,-1)" d="M 7,12.3 L 2.3,12.3 Q 0,12.3 0,10 L 0,2.3 Q 0,0 2.3,0 L 7,0 M 7,12.3 L 7,1 Q 7,0 8,0"/><path transform="translate(889.6,614.2) scale(1,-1)" d="M 7,0 L 7,12.3 L 2.3,12.3 Q 0,12.3 0,10 L 0,7.71 Q 0,5.41 2.3,5.41 L 7,5.41 M 4.2,5.41 L 0,0"/></g>
<g fill="none" stroke="#1a1a1a" stroke-width="1.7" stroke-linecap="round" stroke-linejoin="round"><path transform="translate(812.7,644.1) scale(1,-1)" d="M 7.5,18 L 0.6,18 L 0,10.08 L 4.3,10.44 Q 7.5,10.44 7.5,7.24 L 7.5,3.4 C 7.5,-0.3 0,-0.3 0,3.2"/><path transform="translate(824.67,644.1) scale(1,-1)" d="M 1.1,0.7 L 0,-3.1"/><path transform="translate(830.23,644.1) scale(1,-1)" d="M 0,3.6 L 0,14.4 C 0,18.4 7.5,18.4 7.5,14.4 L 7.5,3.6 C 7.5,-0.4 0,-0.4 0,3.6 Z"/><path transform="translate(842.2,644.1) scale(1,-1)" d="M 1,0.5 C 4.5,-0.6 7.5,1.5 7.5,5.5 L 7.5,14.4 C 7.5,18.4 0,18.4 0,14.4 L 0,11.32 C 0,7.52 7.5,7.52 7.5,11.32"/><path transform="translate(863.53,644.1) scale(1,-1)" d="M 0,0 L 0,12.3 L 4.35,5.17 L 8.7,12.3 L 8.7,0"/><path transform="translate(875.8,634.9) scale(1,-1)" d="M 0,9.2 C 0,11.9 4.5,11.9 4.5,9 C 4.5,6.2 0,3.2 0,0 L 5.1,0" stroke-width="1.35"/></g>
<g fill="none" stroke="#1a1a1a" stroke-width="1.7" stroke-linecap="round" stroke-linejoin="round"><path transform="translate(571.8,750.8) scale(1,-1)" d="M 0,0 L 7,12.3 M 0,12.3 L 7,0"/><path transform="translate(583.13,750.8) scale(1,-1)" d="M 2.3,0 L 4.7,0 Q 7,0 7,2.3 L 7,10 Q 7,12.3 4.7,12.3 L 2.3,12.3 Q 0,12.3 0,10 L 0,2.3 Q 0,0 2.3,0 Z"/><path transform="translate(594.47,750.8) scale(1,-1)" d="M 0,0 Q 0.7,0 1.1,1.5 L 5.3,12.3 L 7,12.3 L 7,0"/><path transform="translate(605.8,750.8) scale(1,-1)" d="M 0,0 Q 0.7,0 1.1,1.5 L 5.3,12.3 L 7,12.3 L 7,0"/></g>
<g fill="none" stroke="#1a1a1a" stroke-width="1.7" stroke-linecap="round" stroke-linejoin="round"><path transform="translate(552.8,778.2) scale(1,-1)" d="M 0,13.4 L 4.6,18 L 4.6,0"/><path transform="translate(561.63,778.2) scale(1,-1)" d="M 0,3.6 L 0,14.4 C 0,18.4 7.5,18.4 7.5,14.4 L 7.5,3.6 C 7.5,-0.4 0,-0.4 0,3.6 Z"/><path transform="translate(573.36,778.2) scale(1,-1)" d="M 1.1,0.7 L 0,-3.1"/><path transform="translate(578.69,778.2) scale(1,-1)" d="M 0,18 L 7.5,18 L 3.15,0"/><path transform="translate(590.41,778.2) scale(1,-1)" d="M 0,18 L 7.5,18 L 3.15,10.26 Q 7.5,10.26 7.5,6.86 L 7.5,3.4 C 7.5,-0.3 0,-0.3 0,3.2"/><path transform="translate(611.27,778.2) scale(1,-1)" d="M 0,0 L 0,12.3 L 4.35,5.17 L 8.7,12.3 L 8.7,0"/><path transform="translate(623.3,769) scale(1,-1)" d="M 0,9.2 C 0,11.9 4.5,11.9 4.5,9 C 4.5,6.2 0,3.2 0,0 L 5.1,0" stroke-width="1.35"/></g>
<g fill="none" stroke="#1a1a1a" stroke-width="1.7" stroke-linecap="round" stroke-linejoin="round"><path transform="translate(835.1,783.2) scale(1,-1)" d="M 7,11.4 Q 6.8,12.3 5.4,12.3 L 2.3,12.3 Q 0,12.3 0,10 L 0,2.3 Q 0,0 2.3,0 L 5.4,0 Q 6.8,0 7,0.9"/><path transform="translate(846.52,783.2) scale(1,-1)" d="M 0,0 L 0,10 Q 0,12.3 2.3,12.3 L 4.7,12.3 Q 7,12.3 7,10 L 7,0"/><path transform="translate(857.93,783.2) scale(1,-1)" d="M 7,12.3 L 2.3,12.3 Q 0,12.3 0,10 L 0,2.3 Q 0,0 2.3,0 L 7,0 M 7,12.3 L 7,1 Q 7,0 8,0"/><path transform="translate(869.35,783.2) scale(1,-1)" d="M 0,0 Q 0.7,0 1.1,1.5 L 5.3,12.3 L 7,12.3 L 7,0"/><path transform="translate(880.77,783.2) scale(1,-1)" d="M 0,12.3 L 0,0 L 4.7,0 Q 7,0 7,2.3 L 7,4.59 Q 7,6.89 4.7,6.89 L 0,6.89"/><path transform="translate(892.18,783.2) scale(1,-1)" d="M 0,0 L 0,12.3 M 7,0 L 7,12.3 M 0,6.4 L 7,6.4"/><path transform="translate(903.6,783.2) scale(1,-1)" d="M 7,0 L 7,12.3 L 2.3,12.3 Q 0,12.3 0,10 L 0,7.71 Q 0,5.41 2.3,5.41 L 7,5.41 M 4.2,5.41 L 0,0"/></g>
<g fill="none" stroke="#1a1a1a" stroke-width="1.7" stroke-linecap="round" stroke-linejoin="round"><path transform="translate(837.8,821.8) scale(1,-1)" d="M 0,13.4 L 4.6,18 L 4.6,0"/><path transform="translate(846.64,821.8) scale(1,-1)" d="M 2.55,18 L 0,4.14 L 8.2,4.14 M 4.95,8.28 L 4.95,0"/><path transform="translate(858.39,821.8) scale(1,-1)" d="M 1.1,0.7 L 0,-3.1"/><path transform="translate(863.73,821.8) scale(1,-1)" d="M 7.5,15 C 7.5,18.3 0,18.3 0,14.4 L 0,3.6 C 0,-0.4 7.5,-0.4 7.5,3.6 L 7.5,6.68 C 7.5,10.48 0,10.48 0,6.68"/><path transform="translate(875.47,821.8) scale(1,-1)" d="M 0,13.4 L 4.6,18 L 4.6,0"/><path transform="translate(893.46,821.8) scale(1,-1)" d="M 0,0 L 0,12.3 L 4.35,5.17 L 8.7,12.3 L 8.7,0"/><path transform="translate(905.5,812.6) scale(1,-1)" d="M 0,9.2 C 0,11.9 4.5,11.9 4.5,9 C 4.5,6.2 0,3.2 0,0 L 5.1,0" stroke-width="1.35"/></g>
<g fill="none" stroke="#1a1a1a" stroke-width="1.7" stroke-linecap="round" stroke-linejoin="round"><path transform="translate(556.1,861.6) scale(1,-1)" d="M -0.6,12.3 L 8.1,12.3 Q 10.4,12.3 10.4,10 L 10.4,0 M 0.4,12.3 L 0.4,0 M 5.41,12.3 L 5.41,0"/><path transform="translate(571.06,861.6) scale(1,-1)" d="M 7,12.3 L 2.3,12.3 Q 0,12.3 0,10 L 0,2.3 Q 0,0 2.3,0 L 7,0 M 7,12.3 L 7,1 Q 7,0 8,0"/><path transform="translate(582.62,861.6) scale(1,-1)" d="M 0,0 L 0,12.3 L 4.35,5.17 L 8.7,12.3 L 8.7,0"/><path transform="translate(595.88,861.6) scale(1,-1)" d="M 7,17.5 L 0.8,17.5 L 7,9.7 L 7,2.3 Q 7,0 4.7,0 L 2.3,0 Q 0,0 0,2.3 L 0,10 Q 0,12.3 2.3,12.3 L 4.7,12.3"/><path transform="translate(607.44,861.6) scale(1,-1)" d="M 0,12.3 L 0,2.3 Q 0,0 2.3,0 L 7,0 M 7,12.3 L 7,-2.7 Q 7,-5 4.7,-5 L 0.8,-5"/><path transform="translate(619,861.6) scale(1,-1)" d="M 0,-5 L 0,12.3 L 4.7,12.3 Q 7,12.3 7,10 L 7,2.3 Q 7,0 4.7,0 L 0,0"/></g>
<g fill="none" stroke="#1a1a1a" stroke-width="1.7" stroke-linecap="round" stroke-linejoin="round"><path transform="translate(561.6,892.5) scale(1,-1)" d="M 7.5,18 L 0.6,18 L 0,10.08 L 4.3,10.44 Q 7.5,10.44 7.5,7.24 L 7.5,3.4 C 7.5,-0.3 0,-0.3 0,3.2"/><path transform="translate(573.3,892.5) scale(1,-1)" d="M 1.1,0.7 L 0,-3.1"/><path transform="translate(578.6,892.5) scale(1,-1)" d="M 0,18 L 7.5,18 L 3.15,10.26 Q 7.5,10.26 7.5,6.86 L 7.5,3.4 C 7.5,-0.3 0,-0.3 0,3.2"/><path transform="translate(590.3,892.5) scale(1,-1)" d="M 7.5,15 C 7.5,18.3 0,18.3 0,14.4 L 0,3.6 C 0,-0.4 7.5,-0.4 7.5,3.6 L 7.5,6.68 C 7.5,10.48 0,10.48 0,6.68"/><path transform="translate(611.1,892.5) scale(1,-1)" d="M 0,0 L 0,12.3 L 4.35,5.17 L 8.7,12.3 L 8.7,0"/><path transform="translate(623.1,883.3) scale(1,-1)" d="M 0,9.2 C 0,11.9 4.5,11.9 4.5,9 C 4.5,6.2 0,3.2 0,0 L 5.1,0" stroke-width="1.35"/></g>
<g fill="none" stroke="#1a1a1a" stroke-width="1.7" stroke-linecap="round" stroke-linejoin="round"><path transform="translate(361.2,879.2) scale(1,-1)" d="M 7,11.4 Q 6.8,12.3 5.4,12.3 L 2.3,12.3 Q 0,12.3 0,10 L 0,2.3 Q 0,0 2.3,0 L 5.4,0 Q 6.8,0 7,0.9"/><path transform="translate(372.8,879.2) scale(1,-1)" d="M 0,0 L 0,10 Q 0,12.3 2.3,12.3 L 4.7,12.3 Q 7,12.3 7,10 L 7,0"/><path transform="translate(384.4,879.2) scale(1,-1)" d="M 7,12.3 L 2.3,12.3 Q 0,12.3 0,10 L 0,2.3 Q 0,0 2.3,0 L 7,0 M 7,12.3 L 7,1 Q 7,0 8,0"/><path transform="translate(396,879.2) scale(1,-1)" d="M 0,0 Q 0.7,0 1.1,1.5 L 5.3,12.3 L 7,12.3 L 7,0"/><path transform="translate(407.6,879.2) scale(1,-1)" d="M 0,12.3 L 0,0 L 4.7,0 Q 7,0 7,2.3 L 7,4.59 Q 7,6.89 4.7,6.89 L 0,6.89"/><path transform="translate(419.2,879.2) scale(1,-1)" d="M 0,0 L 0,12.3 M 7,0 L 7,12.3 M 0,6.4 L 7,6.4"/><path transform="translate(430.8,879.2) scale(1,-1)" d="M 7,0 L 7,12.3 L 2.3,12.3 Q 0,12.3 0,10 L 0,7.71 Q 0,5.41 2.3,5.41 L 7,5.41 M 4.2,5.41 L 0,0"/></g>
<g fill="none" stroke="#1a1a1a" stroke-width="1.7" stroke-linecap="round" stroke-linejoin="round"><path transform="translate(367.5,913.6) scale(1,-1)" d="M 0,13.4 L 4.6,18 L 4.6,0"/><path transform="translate(376.56,913.6) scale(1,-1)" d="M 0,3.6 L 0,14.4 C 0,18.4 7.5,18.4 7.5,14.4 L 7.5,3.6 C 7.5,-0.4 0,-0.4 0,3.6 Z"/><path transform="translate(388.51,913.6) scale(1,-1)" d="M 1.1,0.7 L 0,-3.1"/><path transform="translate(394.07,913.6) scale(1,-1)" d="M 3.4,9.63 L 4.1,9.63 Q 7,9.63 7,12.53 L 7,15.1 Q 7,18 4.1,18 L 3.4,18 Q 0.5,18 0.5,15.1 L 0.5,12.53 Q 0.5,9.63 3.4,9.63 Z M 3.2,0 L 4.3,0 Q 7.5,0 7.5,3.2 L 7.5,6.43 Q 7.5,9.63 4.3,9.63 L 3.2,9.63 Q 0,9.63 0,6.43 L 0,3.2 Q 0,0 3.2,0 Z"/><path transform="translate(406.03,913.6) scale(1,-1)" d="M 1,0.5 C 4.5,-0.6 7.5,1.5 7.5,5.5 L 7.5,14.4 C 7.5,18.4 0,18.4 0,14.4 L 0,11.32 C 0,7.52 7.5,7.52 7.5,11.32"/><path transform="translate(427.34,913.6) scale(1,-1)" d="M 0,0 L 0,12.3 L 4.35,5.17 L 8.7,12.3 L 8.7,0"/><path transform="translate(439.6,904.4) scale(1,-1)" d="M 0,9.2 C 0,11.9 4.5,11.9 4.5,9 C 4.5,6.2 0,3.2 0,0 L 5.1,0" stroke-width="1.35"/></g>
</svg>
</body></html>
